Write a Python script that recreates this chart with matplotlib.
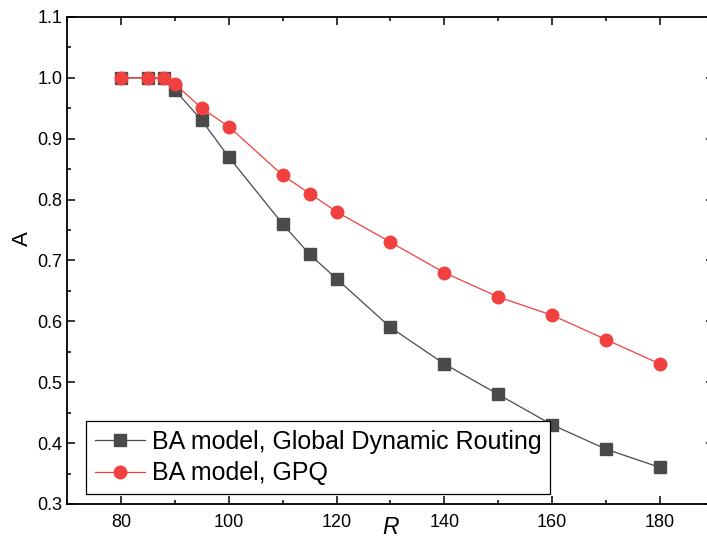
import matplotlib
matplotlib.use("Agg")
import matplotlib.pyplot as plt
from matplotlib.ticker import MultipleLocator

plt.rcParams['font.family'] = ['Liberation Sans', 'DejaVu Sans']

R = [80, 85, 88, 90, 95, 100, 110, 115, 120, 130, 140, 150, 160, 170, 180]
A_gdr = [1.0, 1.0, 1.0, 0.98, 0.93, 0.87, 0.76, 0.71, 0.67, 0.59, 0.53, 0.48, 0.43, 0.39, 0.36]
A_gpq = [1.0, 1.0, 1.0, 0.99, 0.95, 0.92, 0.84, 0.81, 0.78, 0.73, 0.68, 0.64, 0.61, 0.57, 0.53]

fig = plt.figure(figsize=(7.07, 5.4), dpi=100)
ax = fig.add_axes([0.0948, 0.0667, 0.915, 0.9019])

ax.plot(R, A_gdr, color='#4a4a4a', lw=0.9, marker='s', ms=8,
        mfc='#4a4a4a', mec='#4a4a4a', label='BA model, Global Dynamic Routing')
ax.plot(R, A_gpq, color='#f0403f', lw=0.9, marker='o', ms=9,
        mfc='#f0403f', mec='#f0403f', label='BA model, GPQ')

ax.set_xlim(70, 190)
ax.set_ylim(0.3, 1.1)
ax.xaxis.set_major_locator(MultipleLocator(20))
ax.xaxis.set_minor_locator(MultipleLocator(10))
ax.yaxis.set_major_locator(MultipleLocator(0.1))
ax.yaxis.set_minor_locator(MultipleLocator(0.05))
ax.yaxis.set_major_formatter(plt.FormatStrFormatter('%.1f'))

ax.tick_params(which='both', direction='in', top=True, right=True, labelsize=13, width=1.1)
ax.tick_params(which='major', length=6)
ax.tick_params(which='minor', length=3)
ax.tick_params(axis='x', pad=7)
for s in ax.spines.values():
    s.set_linewidth(1.3)

ax.set_xlabel('R', fontsize=16.5, style='italic')
ax.xaxis.set_label_coords(0.5, -0.024)
ax.set_ylabel('A', fontsize=16)
ax.yaxis.set_label_coords(-0.052, 0.546)

leg = ax.legend(loc='lower left', bbox_to_anchor=(0.029, 0.02), borderaxespad=0,
                fontsize=18, fancybox=False, edgecolor='black', framealpha=1,
                handlelength=2.0, handletextpad=0.3, borderpad=0.35, labelspacing=0.3)
leg.get_frame().set_linewidth(0.9)

fig.savefig('out.png', dpi=100)
